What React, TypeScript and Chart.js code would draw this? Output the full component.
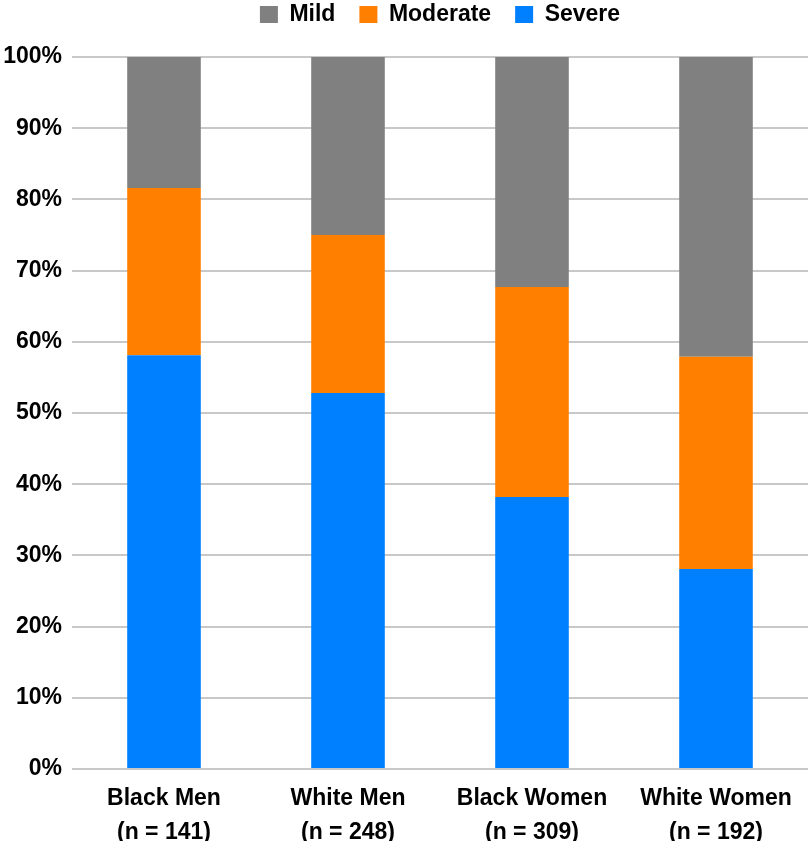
import React, { useEffect, useRef } from "react";
import { Chart, registerables } from "chart.js";

Chart.register(...registerables);

const categories: string[][] = [
  ["Black Men", "(n = 141)"],
  ["White Men", "(n = 248)"],
  ["Black Women", "(n = 309)"],
  ["White Women", "(n = 192)"],
];
const severe = [58.1, 52.8, 38.2, 28.1];
const moderate = [23.5, 22.2, 29.5, 29.8];
const mild = [18.4, 25.0, 32.3, 42.1];

const FONT = "'Liberation Sans', Arial, Helvetica, sans-serif";

const legendShift = {
  id: "legendShift",
  afterLayout(chart: any) {
    chart.legend.top -= 21;
    chart.legend.left += chart.chartArea.left;
  },
};

export default function App() {
  const ref = useRef<HTMLCanvasElement | null>(null);
  useEffect(() => {
    if (!ref.current) return;
    const chart = new Chart(ref.current, {
      type: "bar",
      data: {
        labels: categories,
        datasets: [
          { label: "Severe", data: severe, backgroundColor: "#0080FF", barPercentage: 0.4, categoryPercentage: 1 },
          { label: "Moderate", data: moderate, backgroundColor: "#FF8000", barPercentage: 0.4, categoryPercentage: 1 },
          { label: "Mild", data: mild, backgroundColor: "#808080", barPercentage: 0.4, categoryPercentage: 1 },
        ],
      },
      plugins: [legendShift],
      options: {
        animation: false,
        responsive: false,
        maintainAspectRatio: false,
        layout: { padding: { top: 0, right: 0, bottom: 0, left: 0 } },
        plugins: {
          tooltip: { enabled: false },
          legend: {
            position: "top",
            reverse: true,
            labels: {
              boxWidth: 18,
              boxHeight: 17,
              padding: 24,
              color: "#000",
              font: { family: FONT, size: 23, weight: "bold" },
            },
          },
        },
        scales: {
          x: {
            stacked: true,
            grid: { display: false },
            border: { display: false },
            ticks: {
              color: "#000",
              padding: 4,
              maxRotation: 0,
              autoSkip: false,
              font: { family: FONT, size: 23, weight: "bold", lineHeight: 1.5 },
            },
            afterFit: (s: any) => {
              s.height = 72;
            },
          },
          y: {
            stacked: true,
            min: 0,
            max: 100,
            grid: { color: "#c8c8c8", lineWidth: 2, drawTicks: false },
            border: { display: false },
            ticks: {
              stepSize: 10,
              padding: 10,
              color: "#000",
              font: { family: FONT, size: 23, weight: "bold" },
              callback: (v: any) => v + "%",
            },
            afterFit: (s: any) => {
              s.width = 72;
            },
          },
        },
      },
    });
    return () => chart.destroy();
  }, []);
  return (
    <div style={{ position: "fixed", left: 0, top: 0, width: 808, height: 841, background: "#fff" }}>
      <canvas ref={ref} width={808} height={841} style={{ width: 808, height: 841 }} />
    </div>
  );
}
